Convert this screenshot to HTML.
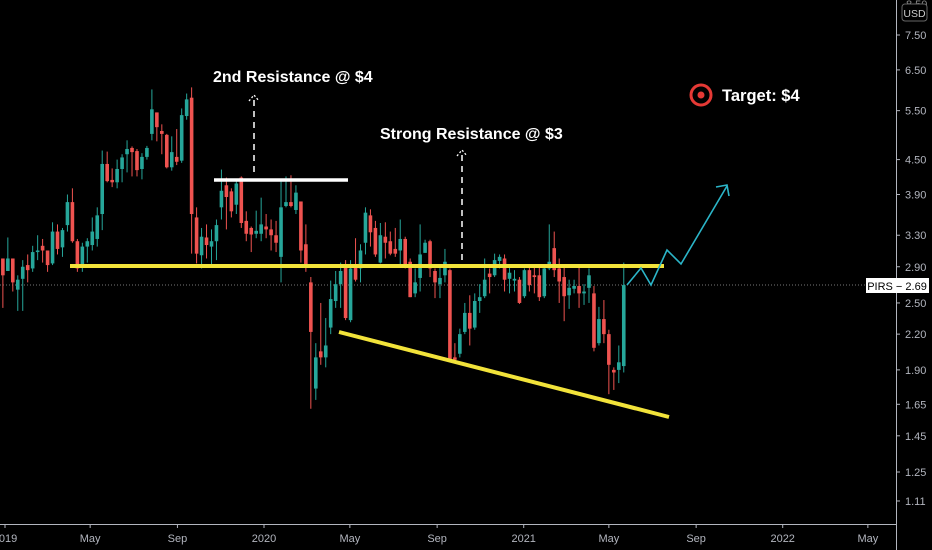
<!DOCTYPE html>
<html><head><meta charset="utf-8"><style>
html,body{margin:0;padding:0;background:#000;}
svg{display:block;font-family:"Liberation Sans",sans-serif;}
</style></head><body>
<svg id="chart" width="932" height="550" viewBox="0 0 932 550" xmlns="http://www.w3.org/2000/svg">
<rect x="0" y="0" width="932" height="550" fill="#000"/>
<line x1="0" y1="285" x2="896" y2="285" stroke="#777" stroke-width="1" stroke-dasharray="1,2"/>
<g id="candles"></g>
<g id="annot">
  <line x1="70" y1="266" x2="664" y2="266" stroke="#f2e33a" stroke-width="4"/>
  <line x1="339" y1="332" x2="669" y2="417" stroke="#f2e33a" stroke-width="4"/>
  <line x1="214" y1="180" x2="348" y2="180" stroke="#fff" stroke-width="3.5"/>
  <line x1="254" y1="100" x2="254" y2="177" stroke="#fff" stroke-width="1.5" stroke-dasharray="6,5"/>
  <polyline points="249,101 254,95 259,101" fill="none" stroke="#fff" stroke-width="1.3" stroke-dasharray="2,2"/>
  <text x="213" y="82" fill="#fff" font-size="16" font-weight="bold">2nd Resistance @ $4</text>
  <line x1="462" y1="155" x2="462" y2="262" stroke="#fff" stroke-width="1.5" stroke-dasharray="6,5"/>
  <polyline points="457,156 462,150 467,156" fill="none" stroke="#fff" stroke-width="1.3" stroke-dasharray="2,2"/>
  <text x="380" y="139" fill="#fff" font-size="16" font-weight="bold">Strong Resistance @ $3</text>
  <polyline points="627,285 641,268 651,285 667,250 681,264 727,186" fill="none" stroke="#2bb5c8" stroke-width="1.6"/>
  <polyline points="716,187 727,185 729,196" fill="none" stroke="#2bb5c8" stroke-width="1.6"/>
  <circle cx="701" cy="95" r="10" fill="none" stroke="#e53935" stroke-width="3"/>
  <circle cx="701" cy="95" r="3.5" fill="#e53935"/>
  <text x="722" y="101" fill="#fff" font-size="16.5" font-weight="bold">Target: $4</text>
</g>
<line x1="0" y1="524.5" x2="896" y2="524.5" stroke="#b2b5be" stroke-width="1"/>
<line x1="896.5" y1="0" x2="896.5" y2="550" stroke="#b2b5be" stroke-width="1"/>
<g id="yaxis"></g>
<g id="xaxis"></g>
<text x="906" y="8" fill="#888" font-size="11">8.50</text>
<rect x="902" y="4" width="25" height="17" rx="3" fill="#000" stroke="#666"/>
<text x="914.5" y="17" fill="#ccc" font-size="10.5" text-anchor="middle">USD</text>
<rect x="866" y="278" width="63" height="15" fill="#fff"/>
<text x="897" y="290" fill="#000" font-size="11" text-anchor="middle">PIRS − 2.69</text>
</svg>
<script>
var opens=[3.0,2.85,3.0,2.64,2.76,2.92,2.88,3.08,3.16,3.1,2.94,3.35,3.14,3.44,3.78,3.22,2.9,3.15,3.17,3.25,3.6,4.42,4.14,4.1,4.33,4.6,4.72,4.66,4.33,4.55,5.0,5.46,5.06,4.98,4.36,4.55,4.48,5.38,5.8,3.55,3.04,3.27,3.15,3.22,3.7,4.05,3.95,3.74,4.18,3.5,3.4,3.32,3.32,3.42,3.38,3.3,3.02,3.72,3.78,3.66,3.79,3.18,2.72,1.76,2.05,2.0,2.26,2.52,2.7,2.9,2.33,2.92,2.88,3.2,3.58,3.4,2.95,3.28,3.22,3.12,3.1,3.25,2.96,2.6,2.77,3.07,3.22,2.85,2.7,2.8,2.86,2.0,2.03,2.22,2.4,2.26,2.52,2.57,2.82,2.8,2.97,3.0,2.76,2.74,2.75,2.57,2.86,2.8,2.8,2.57,2.88,3.13,2.88,2.78,2.58,2.65,2.68,2.6,2.66,2.6,2.12,2.34,2.2,1.9,1.9,1.93];
var closes=[2.8,3.0,2.72,2.75,2.9,2.86,3.08,3.1,3.1,2.92,3.35,3.12,3.37,3.78,3.22,2.88,3.15,3.22,3.35,3.58,4.42,4.12,4.1,4.33,4.54,4.7,4.64,4.31,4.55,4.72,5.53,5.14,5.0,4.36,4.64,4.46,5.4,5.76,3.6,3.06,3.28,3.17,3.22,3.44,3.96,3.86,3.64,4.08,3.47,3.32,3.31,3.36,3.45,3.38,3.3,3.2,3.7,3.78,3.72,3.93,3.1,2.9,2.22,2.0,2.0,2.1,2.54,2.7,2.85,2.35,2.88,2.75,3.1,3.62,3.34,3.05,3.3,3.2,3.06,3.06,3.25,2.93,2.56,2.72,3.05,3.2,2.88,2.72,2.77,2.96,1.98,1.98,2.2,2.4,2.25,2.52,2.56,2.75,2.78,2.98,3.02,2.75,2.83,2.76,2.5,2.86,2.69,2.78,2.56,2.88,2.96,2.86,2.73,2.57,2.66,2.68,2.6,2.62,2.8,2.08,2.34,2.2,1.94,1.88,1.96,2.69];
var highs=[3.0,3.27,3.0,2.8,2.98,3.05,3.16,3.3,3.25,3.1,3.48,3.45,3.4,3.9,4.0,3.25,3.2,3.26,3.55,3.7,4.67,4.65,4.34,4.5,4.6,4.87,4.75,4.7,4.62,4.76,6.0,5.46,5.2,5.0,4.95,5.1,5.55,5.9,6.05,3.7,3.4,3.45,3.38,3.52,4.32,4.18,4.0,4.13,4.2,3.64,3.42,3.65,3.85,3.6,3.52,3.5,4.15,4.2,4.22,4.05,3.79,3.45,2.78,2.12,2.5,2.35,2.74,2.85,2.95,2.98,2.98,3.26,3.18,3.7,3.67,3.5,3.47,3.48,3.35,3.4,3.52,3.28,3.0,2.88,3.45,3.24,3.24,2.88,2.9,3.12,2.88,2.12,2.25,2.5,2.58,2.6,2.7,3.0,2.88,3.06,3.05,3.05,2.92,2.86,2.78,2.88,2.9,2.9,2.9,2.9,3.45,3.35,3.0,2.92,2.75,2.75,2.9,2.7,2.88,2.68,2.46,2.53,2.24,1.92,2.1,2.95];
var lows=[2.45,2.87,2.62,2.42,2.42,2.72,2.84,2.98,2.95,2.84,2.92,3.05,3.02,3.35,3.2,2.84,2.84,2.95,3.1,3.15,3.37,4.1,4.02,4.0,4.1,4.27,4.2,4.2,4.15,4.5,4.87,4.85,4.6,4.34,4.3,4.4,4.44,5.3,3.06,2.94,2.88,3.0,2.9,2.98,3.52,3.38,3.55,3.6,3.4,3.22,3.08,3.26,3.22,3.26,3.1,3.08,2.72,3.7,3.7,3.6,2.95,2.84,1.62,1.68,1.94,1.92,2.2,2.45,2.45,2.33,2.31,2.73,2.72,3.05,3.15,3.02,2.94,3.0,3.04,3.02,2.93,2.88,2.56,2.56,2.62,3.07,2.78,2.55,2.55,2.72,1.96,1.96,2.0,2.2,2.1,2.24,2.4,2.55,2.6,2.78,2.88,2.62,2.6,2.62,2.49,2.55,2.62,2.6,2.52,2.55,2.86,2.78,2.5,2.32,2.44,2.6,2.45,2.48,2.5,2.05,2.1,2.12,1.72,1.75,1.8,1.88];
var yTickValues=[7.50,6.50,5.50,4.50,3.90,3.30,2.90,2.50,2.20,1.90,1.65,1.45,1.25,1.11];
var xTickLabels=["2019","May","Sep","2020","May","Sep","2021","May","Sep","2022","May"];
var xTickDays=[0,120,243,365,486,609,731,851,974,1096,1216];

var NS="http://www.w3.org/2000/svg";
function yScale(p){return 35+(Math.log(7.5)-Math.log(p))*243.9;}
function xDay(d){return 5+d*259/365;}
function xCandle(i){return xDay(7*i-3);}
function mk(tag,attrs,parent){var e=document.createElementNS(NS,tag);for(var a in attrs)e.setAttribute(a,attrs[a]);parent.appendChild(e);return e;}

var cg=document.getElementById('candles');
for(var i=0;i<opens.length;i++){
  var up=closes[i]>=opens[i];
  var col=up?'#26a69a':'#ef5350';
  var cx=xCandle(i);
  var w=mk('line',{x1:cx,x2:cx,y1:yScale(highs[i]),y2:yScale(lows[i]),stroke:col,'stroke-width':1},cg);
  
  
  var yt=yScale(Math.max(opens[i],closes[i])),yb=yScale(Math.min(opens[i],closes[i]));
  var b=mk('rect',{x:cx-1.8,y:yt,width:3.6,height:Math.max(1,yb-yt),fill:col},cg);
  
  
}
var ya=document.getElementById('yaxis');
for(var j=0;j<yTickValues.length;j++){
  var yy=yScale(yTickValues[j]);
  var tk=mk('line',{x1:896,x2:900,y1:yy,y2:yy,stroke:'#b2b5be','stroke-width':1},ya);
  
  
  var t=mk('text',{x:905,y:yy+4,fill:'#b2b5be','font-size':11},ya);
  t.textContent=yTickValues[j].toFixed(2);
  
  
}
var xa=document.getElementById('xaxis');
for(var k=0;k<xTickLabels.length;k++){
  var xx=xDay(xTickDays[k]);
  var tk2=mk('line',{x1:xx,x2:xx,y1:524,y2:528,stroke:'#b2b5be','stroke-width':1},xa);
  
  
  var t2=mk('text',{x:xx,y:542,fill:'#b2b5be','font-size':11,'text-anchor':'middle'},xa);
  t2.textContent=xTickLabels[k];
  
  
}
</script>
</body></html>
